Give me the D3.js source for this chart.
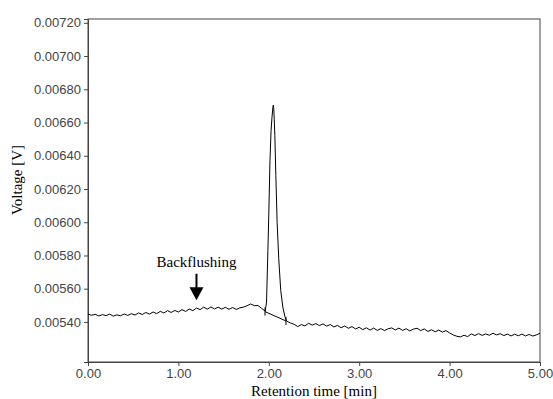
<!DOCTYPE html>
<html>
<head>
<meta charset="utf-8">
<script src="https://cdn.jsdelivr.net/npm/d3@7"></script>
<style>
	body { margin: 0; background: #fff; }
	svg { display: block; }
</style>
</head>
<body>
<svg id="chart" width="553" height="399"></svg>
<script>
// signal in mV, time in min
const preTrace = [
	[0.00, 5.448], [0.04, 5.440], [0.08, 5.446], [0.12, 5.436], [0.16, 5.444], [0.20, 5.438],
	[0.24, 5.447], [0.28, 5.435], [0.32, 5.443], [0.36, 5.437], [0.40, 5.448], [0.44, 5.439],
	[0.48, 5.450], [0.52, 5.442], [0.56, 5.454], [0.60, 5.445], [0.64, 5.457], [0.68, 5.447],
	[0.72, 5.460], [0.76, 5.450], [0.80, 5.464], [0.84, 5.454], [0.88, 5.468], [0.92, 5.457],
	[0.96, 5.469], [1.00, 5.460], [1.04, 5.474], [1.08, 5.463], [1.12, 5.478], [1.16, 5.468],
	[1.20, 5.484], [1.24, 5.474], [1.28, 5.489], [1.32, 5.477], [1.36, 5.490], [1.40, 5.478],
	[1.44, 5.489], [1.48, 5.477], [1.52, 5.488], [1.56, 5.476], [1.60, 5.487], [1.64, 5.475],
	[1.68, 5.485], [1.72, 5.489], [1.76, 5.498], [1.80, 5.508], [1.84, 5.498], [1.88, 5.499],
	[1.92, 5.482], [1.96, 5.465]
];
const peakTrace = [
	[1.96, 5.465], [1.975, 5.52], [1.99, 5.83], [2.00, 6.05], [2.013, 6.37], [2.025, 6.55],
	[2.035, 6.63], [2.045, 6.69], [2.050, 6.705], [2.055, 6.68], [2.060, 6.62], [2.067, 6.52],
	[2.078, 6.28], [2.092, 6.00], [2.11, 5.78], [2.132, 5.59], [2.155, 5.49], [2.179, 5.43],
	[2.20, 5.404]
];
const postTrace = [
	[2.20, 5.404], [2.24, 5.394], [2.28, 5.386], [2.32, 5.372], [2.36, 5.384], [2.40, 5.376],
	[2.44, 5.392], [2.48, 5.381], [2.52, 5.390], [2.56, 5.378], [2.60, 5.388], [2.64, 5.375],
	[2.68, 5.384], [2.72, 5.370], [2.76, 5.379], [2.80, 5.365], [2.84, 5.376], [2.88, 5.362],
	[2.92, 5.372], [2.96, 5.358], [3.00, 5.368], [3.04, 5.354], [3.08, 5.365], [3.12, 5.351],
	[3.16, 5.363], [3.20, 5.349], [3.24, 5.360], [3.28, 5.348], [3.32, 5.359], [3.36, 5.364],
	[3.40, 5.352], [3.44, 5.363], [3.48, 5.349], [3.52, 5.359], [3.56, 5.346], [3.60, 5.357],
	[3.64, 5.362], [3.68, 5.348], [3.72, 5.358], [3.76, 5.343], [3.80, 5.353], [3.84, 5.341],
	[3.88, 5.351], [3.92, 5.339], [3.96, 5.348], [4.00, 5.334], [4.04, 5.322], [4.08, 5.314],
	[4.12, 5.310], [4.16, 5.320], [4.20, 5.312], [4.24, 5.328], [4.28, 5.318], [4.32, 5.330],
	[4.36, 5.319], [4.40, 5.328], [4.44, 5.320], [4.48, 5.332], [4.52, 5.322], [4.56, 5.329],
	[4.60, 5.318], [4.64, 5.327], [4.68, 5.316], [4.72, 5.326], [4.76, 5.317], [4.80, 5.327],
	[4.84, 5.316], [4.88, 5.325], [4.92, 5.315], [4.96, 5.322], [5.00, 5.332]
];
// integration baseline under the peak
const peakBaseline = [[1.958, 5.462], [2.19, 5.406]];
const xTicks = [0, 1, 2, 3, 4, 5];
const yTicks = [5.4, 5.6, 5.8, 6.0, 6.2, 6.4, 6.6, 6.8, 7.0, 7.2];
const annotation = { label: "Backflushing", t: 1.2, textAt: 5.73, arrowTop: 5.69, arrowTip: 5.53 };

const svg = d3.select("#chart");
const margin = { left: 88, top: 19, right: 13, bottom: 37 };
const width = 553 - margin.left - margin.right;
const height = 399 - margin.top - margin.bottom;

const x = d3.scaleLinear().domain([0, 5]).range([margin.left, margin.left + width]);
const y = d3.scaleLinear().domain([5.159, 7.223]).range([margin.top + height, margin.top]);

const axisColor = "#444";

// frame
svg.append("rect")
	.attr("x", margin.left)
	.attr("y", margin.top)
	.attr("width", width)
	.attr("height", height)
	.attr("fill", "none")
	.attr("stroke", axisColor)
	.attr("stroke-width", 1);

const xAxis = svg.append("g")
	.attr("transform", `translate(0, ${margin.top + height})`)
	.call(d3.axisBottom(x).tickValues(xTicks).tickSize(4).tickPadding(3).tickFormat(d3.format(".2f")));

const yAxis = svg.append("g")
	.attr("transform", `translate(${margin.left}, 0)`)
	.call(d3.axisLeft(y).tickValues(yTicks).tickSize(4).tickPadding(3).tickFormat(d => (d / 1000).toFixed(5)));

[xAxis, yAxis].forEach(a => {
	a.select(".domain").attr("stroke", axisColor);
	a.selectAll(".tick line").attr("stroke", axisColor);
	a.selectAll(".tick text")
		.attr("fill", "#444")
		.style("font-family", "'Liberation Sans', Arial, sans-serif")
		.style("font-size", "13px");
});

// axis titles
svg.append("text")
	.attr("x", x(2.5))
	.attr("y", 396)
	.attr("text-anchor", "middle")
	.style("font-family", "'Liberation Serif', 'Times New Roman', serif")
	.style("font-size", "15px")
	.text("Retention time [min]");

svg.append("text")
	.attr("transform", `translate(22, ${y(6.254)}) rotate(-90)`)
	.attr("text-anchor", "middle")
	.style("font-family", "'Liberation Serif', 'Times New Roman', serif")
	.style("font-size", "15px")
	.text("Voltage [V]");

// trace
const line = d3.line()
	.x(d => x(d[0]))
	.y(d => y(d[1]));

const traceGroup = svg.append("g").attr("class", "trace");
[preTrace, peakTrace, postTrace].forEach(seg => {
	traceGroup.append("path")
		.datum(seg)
		.attr("d", line)
		.attr("fill", "none")
		.attr("stroke", "#000")
		.attr("stroke-width", 1)
		.attr("stroke-linejoin", "round");
});

// integration baseline with end marks
svg.append("path")
	.datum(peakBaseline)
	.attr("d", line)
	.attr("fill", "none")
	.attr("stroke", "#000")
	.attr("stroke-width", 1);

svg.selectAll(".baseline-mark")
	.data(peakBaseline)
	.enter()
	.append("line")
	.attr("class", "baseline-mark")
	.attr("x1", d => x(d[0]))
	.attr("x2", d => x(d[0]))
	.attr("y1", d => y(d[1]) - 4)
	.attr("y2", d => y(d[1]) + 4)
	.attr("stroke", "#000")
	.attr("stroke-width", 1);

// annotation
svg.append("text")
	.attr("x", x(annotation.t))
	.attr("y", y(annotation.textAt))
	.attr("text-anchor", "middle")
	.style("font-family", "'Liberation Serif', 'Times New Roman', serif")
	.style("font-size", "15px")
	.text(annotation.label);

const ax = x(annotation.t);
const tipY = y(annotation.arrowTip);
svg.append("line")
	.attr("x1", ax)
	.attr("x2", ax)
	.attr("y1", y(annotation.arrowTop))
	.attr("y2", tipY - 10)
	.attr("stroke", "#000")
	.attr("stroke-width", 2);

svg.append("path")
	.attr("d", `M${ax - 7},${tipY - 13} L${ax + 7},${tipY - 13} L${ax},${tipY} Z`)
	.attr("fill", "#000");
</script>
</body>
</html>
